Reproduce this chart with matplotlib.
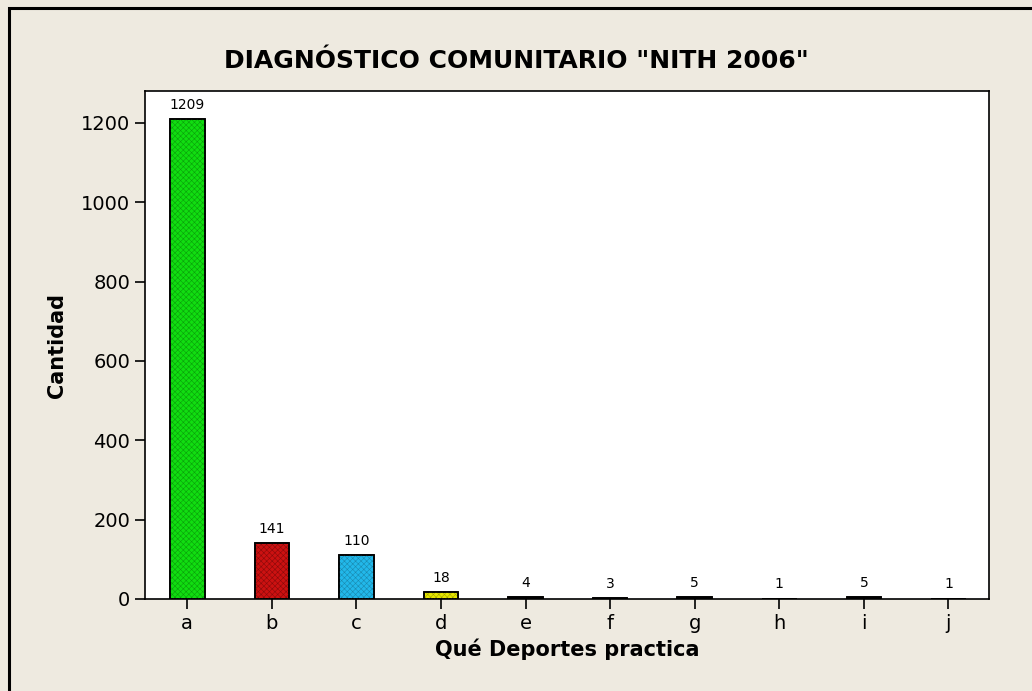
import matplotlib.pyplot as plt
from matplotlib.patches import Rectangle

plt.rcParams['font.family'] = ['Verdana', 'DejaVu Sans']
plt.rcParams['hatch.linewidth'] = 0.4

categories = ['a', 'b', 'c', 'd', 'e', 'f', 'g', 'h', 'i', 'j']
counts = [1209, 141, 110, 18, 4, 3, 5, 1, 5, 1]
bar_colors = ['#11dd11', '#cc1111', '#22b8ea', '#e6e600',
              '#222222', '#222222', '#222222', '#222222', '#222222', '#222222']
hatch_colors = ['#0aa00a', '#8a0a0a', '#1a8ab0', '#a8a800',
                '#000000', '#000000', '#000000', '#000000', '#000000', '#000000']
y_ticks = [0, 200, 400, 600, 800, 1000, 1200]

bg = '#eeeae0'
fig = plt.figure(figsize=(10.32, 6.91), dpi=100, facecolor=bg)

# outer frame, runs off the right and bottom edges
fig.patches.append(Rectangle((9 / 1032, -0.05), 1.1, 1.05 - 8 / 691,
                             transform=fig.transFigure, fill=False,
                             edgecolor='black', linewidth=2.2, zorder=0))

ax = fig.add_axes([145 / 1032, 1 - 599 / 691, (989 - 145) / 1032, (599 - 91) / 691])
ax.set_facecolor('white')

x = range(len(categories))
bars = ax.bar(x, counts, width=0.41, color=bar_colors, edgecolor='black', linewidth=1.2, zorder=2)
# fine texture on the fill
for b, hc in zip(bars, hatch_colors):
    ax.add_patch(Rectangle(b.get_xy(), b.get_width(), b.get_height(), fill=False,
                           hatch='xxxxxx', edgecolor=hc, linewidth=0, zorder=3))
for b in bars:
    ax.add_patch(Rectangle(b.get_xy(), b.get_width(), b.get_height(), fill=False,
                           edgecolor='black', linewidth=1.2, zorder=4))

for xi, v in zip(x, counts):
    ax.text(xi, v + 18, str(v), ha='center', va='bottom', fontsize=10)

ax.set_xlim(-0.5, 9.48)
ax.set_ylim(0, 1280)
ax.set_xticks(list(x))
ax.set_xticklabels(categories)
ax.set_yticks(y_ticks)
ax.tick_params(axis='both', labelsize=14, length=7, width=1.2, direction='out')
for s in ax.spines.values():
    s.set_linewidth(1.2)

ax.set_xlabel('Qué Deportes practica', fontsize=15, fontweight='bold', labelpad=4)
ax.set_ylabel('Cantidad', fontsize=15, fontweight='bold', labelpad=10)
fig.text(0.5, 1 - 61 / 691, 'DIAGNÓSTICO COMUNITARIO "NITH 2006"', ha='center', va='center',
         fontsize=18, fontweight='bold')

fig.savefig('out.png', dpi=100, facecolor=bg)
